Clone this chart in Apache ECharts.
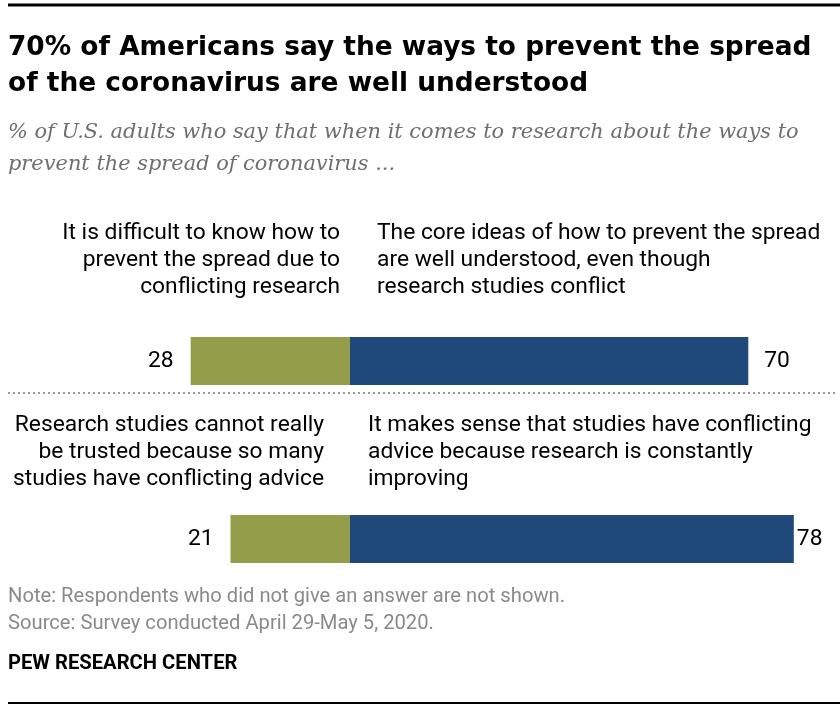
<!DOCTYPE html>
<html><head><meta charset="utf-8">
<script src="https://cdn.jsdelivr.net/npm/echarts@6/dist/echarts.min.js"></script>
<style>html,body{margin:0;padding:0;background:#fff}#c{width:840px;height:708px}</style>
</head><body><div id="c"></div>
<script>
const categories = ['Trust', 'Sense'];
const negativeValues = [28, 21];
const positiveValues = [70, 78];
const leftLabels = [
  ['It is difficult to know how to', 'prevent the spread due to', 'conflicting research'],
  ['Research studies cannot really', 'be trusted because so many', 'studies have conflicting advice']
];
const rightLabels = [
  ['The core ideas of how to prevent the spread', 'are well understood, even though', 'research studies conflict'],
  ['It makes sense that studies have conflicting', 'advice because research is constantly', 'improving']
];
const titleLines = ['70% of Americans say the ways to prevent the spread', 'of the coronavirus are well understood'];
const subtitleLines = ['% of U.S. adults who say that when it comes to research about the ways to', 'prevent the spread of coronavirus ...'];
const noteText = 'Note: Respondents who did not give an answer are not shown.';
const sourceText = 'Source: Survey conducted April 29-May 5, 2020.';
const creditText = 'PEW RESEARCH CENTER';

const SANS = "'Roboto', sans-serif";
const TITLE = "'DejaVu Sans', sans-serif";
const SERIF = "'DejaVu Serif', serif";
const GREEN = '#949d4a';
const BLUE = '#1f497a';

const graphics = [];
function txt(x, y, s, o) {
  graphics.push({type: 'text', x: x, y: y, style: Object.assign({text: s, fill: '#000', font: '22.8px ' + SANS, textAlign: 'left', textVerticalAlign: 'middle'}, o || {})});
}
graphics.push({type: 'line', shape: {x1: 8, y1: 5, x2: 840, y2: 5}, style: {stroke: '#000', lineWidth: 3}});
graphics.push({type: 'line', shape: {x1: 8, y1: 703, x2: 840, y2: 703}, style: {stroke: '#000', lineWidth: 2}});
graphics.push({type: 'line', shape: {x1: 8, y1: 393, x2: 838, y2: 393}, style: {stroke: '#999', lineWidth: 2, lineDash: [2, 3]}});
titleLines.forEach((s, i) => txt(8, 48 + i * 36, s, {font: 'bold 26.4px ' + TITLE}));
subtitleLines.forEach((s, i) => txt(8, 133 + i * 32, s, {font: 'italic 20.9px ' + SERIF, fill: '#6f6f6f'}));
const rowY = [233, 425];
const leftX = [340, 324];
const rightX = [377, 368];
leftLabels.forEach((lines, r) => lines.forEach((s, i) => txt(leftX[r], rowY[r] + i * 27, s, {textAlign: 'right'})));
rightLabels.forEach((lines, r) => lines.forEach((s, i) => txt(rightX[r], rowY[r] + i * 27, s)));
txt(8, 597, noteText, {fill: '#8a8a8a', font: '20.2px ' + SANS});
txt(8, 624, sourceText, {fill: '#8a8a8a', font: '20.2px ' + SANS});
txt(8, 664, creditText, {font: 'bold 20.2px ' + SANS});

const rightDistances = [16, 3];
const chart = echarts.init(document.getElementById('c'), null, {renderer: 'canvas'});
chart.setOption({
  animation: false,
  grid: {left: 122.4, right: 34.8, top: 272, bottom: 80},
  xAxis: {type: 'value', min: -40, max: 80, show: false},
  yAxis: {type: 'category', data: categories, inverse: true, show: false},
  graphic: graphics,
  series: [
    {type: 'bar', stack: 's', barWidth: 48, data: negativeValues.map(v => -v),
     itemStyle: {color: GREEN},
     label: {show: true, position: 'left', distance: 17, formatter: p => Math.abs(p.value), color: '#000', fontSize: 22.8, fontFamily: SANS}},
    {type: 'bar', stack: 's', barWidth: 48,
     data: positiveValues.map((v, i) => ({value: v, label: {distance: rightDistances[i]}})),
     itemStyle: {color: BLUE},
     label: {show: true, position: 'right', color: '#000', fontSize: 22.8, fontFamily: SANS}}
  ]
});
</script></body></html>
